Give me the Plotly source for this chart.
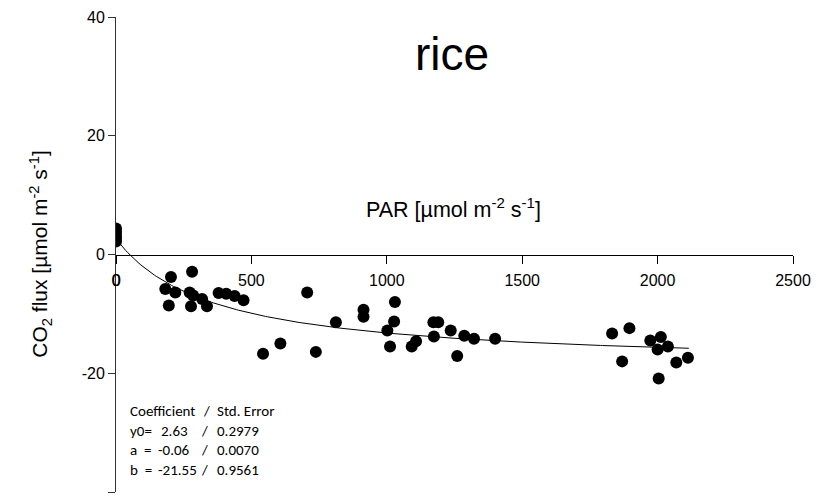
import numpy as np
import plotly.graph_objects as go

# Measured data (PAR vs CO2 flux)
par = [0, 0, 0, 0, 0,
       203, 281, 182, 219, 195, 272, 285, 277, 318, 336, 379, 407, 438, 471,
       543, 607, 706, 738, 812, 914, 914,
       1030, 1027, 1002, 1012, 1092, 1108, 1172, 1190, 1174, 1236, 1260, 1286, 1322, 1400,
       1832, 1896, 1869, 1973, 2012, 2000, 2038, 2069, 2112, 2004]
flux = [4.4, 3.8, 3.2, 2.7, 2.2,
        -3.8, -2.9, -5.8, -6.4, -8.6, -6.4, -6.9, -8.7, -7.5, -8.7, -6.5, -6.6, -7.0, -7.7,
        -16.7, -15.0, -6.4, -16.4, -11.4, -9.3, -10.5,
        -8.0, -11.3, -12.8, -15.5, -15.5, -14.6, -11.4, -11.4, -13.8, -12.8, -17.1, -13.7, -14.2, -14.2,
        -13.3, -12.4, -18.0, -14.5, -13.9, -16.0, -15.5, -18.2, -17.4, -20.9]

# Fit coefficients (rectangular hyperbola)
y0, a, b = 2.63, -0.06, -21.55
fit_x_max = 2115

x_ticks = [0, 500, 1000, 1500, 2000, 2500]
x_ticktext = ["0", "500", "1000", "1500", "2000", "2500"]
y_ticks = [-40, -20, 0, 20, 40]
y_ticktext = ["-40", "-20", "0", "20", "40"]

coef_head = ("Coefficient", "/", "Std. Error")
coef_names = ["y0=", "a  =", "b  ="]
coef_values = ["2.63", "-0.06", "-21.55"]
coef_errors = ["0.2979", "0.0070", "0.9561"]

fx = np.linspace(0, fit_x_max, 300)
fy = y0 + a * b * fx / (a * fx + b)

fig = go.Figure()
fig.add_trace(go.Scatter(x=fx, y=fy, mode="lines",
                         line=dict(color="black", width=1), hoverinfo="skip"))
fig.add_trace(go.Scatter(x=par, y=flux, mode="markers",
                         marker=dict(color="black", size=12, line=dict(width=0))))

font_main = dict(family="Liberation Sans", color="black")

fig.update_layout(
    width=820, height=499,
    margin=dict(l=115.5, r=26.7, t=17, b=7),
    plot_bgcolor="white", paper_bgcolor="white",
    showlegend=False,
    font=dict(**font_main, size=16),
    xaxis=dict(range=[0, 2500], tickvals=x_ticks, ticktext=x_ticktext,
               ticks="outside", ticklen=8, ticklabelstandoff=3,
               tickcolor="black", showline=True, linecolor="black", linewidth=1,
               showgrid=False, zeroline=False, anchor="free", position=0.5,
               tickfont=dict(size=16, **font_main)),
    yaxis=dict(range=[-40, 40], tickvals=y_ticks, ticktext=y_ticktext,
               ticks="outside", ticklen=7,
               tickcolor="#333", showline=True, linecolor="#333", linewidth=1,
               showgrid=False, zeroline=False, tickfont=dict(size=16, **font_main)),
)

# "0" label of x axis (drawn on top of the y axis line, as in the reference)
fig.add_annotation(text=x_ticktext[0], x=x_ticks[0], y=-4.3, showarrow=False,
                   xanchor="center", yanchor="middle", font=dict(size=16, **font_main))

# Title and axis labels
fig.add_annotation(text="rice", x=0.497, y=0.922, xref="paper", yref="paper",
                   showarrow=False, font=dict(size=46, **font_main),
                   xanchor="center", yanchor="middle")
fig.add_annotation(text="PAR [µmol m<sup>-2</sup> s<sup>-1</sup>]", x=0.4987, y=0.598,
                   xref="paper", yref="paper", showarrow=False,
                   font=dict(size=21.5, **font_main), xanchor="center", yanchor="middle")
fig.add_annotation(text="CO<sub>2</sub> flux [µmol m<sup>-2</sup> s<sup>-1</sup>]",
                   x=-0.112, y=0.5, xref="paper", yref="paper", showarrow=False,
                   textangle=-90, font=dict(size=21, **font_main),
                   xanchor="center", yanchor="middle")

# Coefficient table
row_y = [-26.4, -29.7, -33.0, -36.3]
cfont = dict(family="Carlito, Lato", size=15, color="black")
fig.add_annotation(text=coef_head[0], x=46, y=row_y[0], xanchor="left", yanchor="middle",
                   showarrow=False, font=cfont)
fig.add_annotation(text=coef_head[1], x=333, y=row_y[0], xanchor="center",
                   yanchor="middle", showarrow=False, font=cfont)
fig.add_annotation(text=coef_head[2], x=366, y=row_y[0], xanchor="left",
                   yanchor="middle", showarrow=False, font=cfont)
for i in range(3):
    ry = row_y[i + 1]
    fig.add_annotation(text=coef_names[i], x=46, y=ry, xanchor="left", yanchor="middle",
                       showarrow=False, font=cfont)
    fig.add_annotation(text=coef_values[i], x=157 if i == 0 else 146, y=ry,
                       xanchor="left", yanchor="middle", showarrow=False, font=cfont)
    fig.add_annotation(text="/", x=326, y=ry, xanchor="center",
                       yanchor="middle", showarrow=False, font=cfont)
    fig.add_annotation(text=coef_errors[i], x=366, y=ry, xanchor="left",
                       yanchor="middle", showarrow=False, font=cfont)

fig.write_html("out.html")
